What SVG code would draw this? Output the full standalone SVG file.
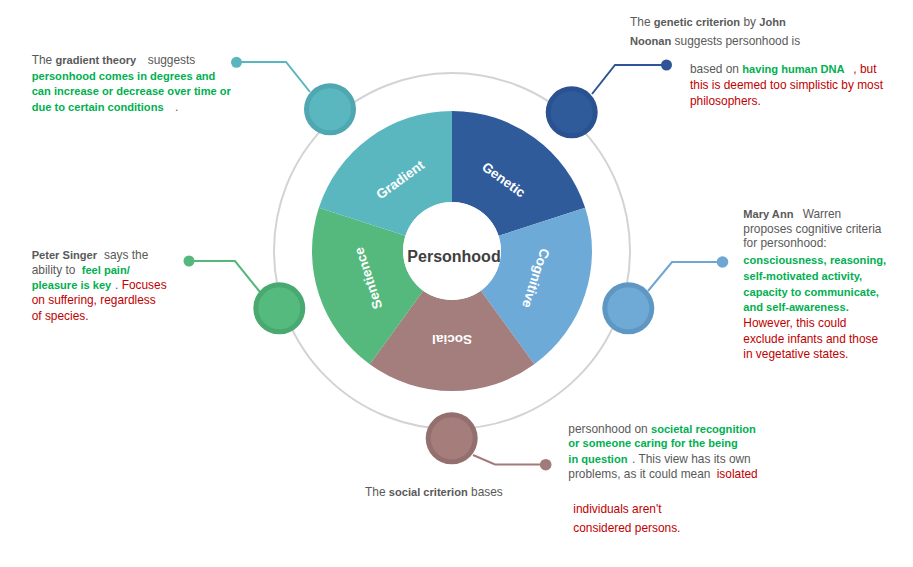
<svg xmlns="http://www.w3.org/2000/svg" width="913" height="567" viewBox="0 0 913 567">
<style>
.t{font-family:"Liberation Sans",Arial,sans-serif;font-size:11.9px;fill:#595959}
.b{font-weight:700;font-size:11.1px}
.g{fill:#00b050}
.rd{fill:#c00000}
.gy{fill:#595959}
.lbl{font-family:"Liberation Sans",Arial,sans-serif;font-size:13.5px;font-weight:700;fill:#fff;text-anchor:middle}
.lead{fill:none;stroke-width:2}
</style>
<rect width="913" height="567" fill="#fff"/>
<circle cx="452" cy="251" r="178" fill="none" stroke="#d3d3d3" stroke-width="2"/>

<g id="connectors">
<polyline class="lead" stroke="#5bb5be" points="310,92 286,62 238,62"/>
<circle cx="236.5" cy="62.3" r="5.5" fill="#5bb5be"/>
<polyline class="lead" stroke="#2f5597" points="592,94 615,65 666,65"/>
<circle cx="666.5" cy="65" r="5.5" fill="#2f5597"/>
<polyline class="lead" stroke="#6ea6d4" points="648,291 672,262 722,262"/>
<circle cx="722.5" cy="262" r="5.8" fill="#6ea6d4"/>
<polyline class="lead" stroke="#55b77c" points="260,292 235,261 190,261"/>
<circle cx="189" cy="261" r="5.5" fill="#55b77c"/>
<polyline class="lead" stroke="#a07b79" points="473,455 495,464.5 545,464.5"/>
<circle cx="545.7" cy="464.7" r="5.8" fill="#a07b79"/>
</g>

<g id="genetic">
<path d="M452,111 A140,140 0 0 1 585.15,207.74 L498.60,235.86 A49,49 0 0 0 452,202 Z" fill="#2f5b9b"/>
<text class="lbl" transform="translate(452,251) rotate(36) translate(0,-88)" y="4.5">Genetic</text>
<circle cx="571.7" cy="112.3" r="23.5" fill="#2f5b9b" stroke="#2b5290" stroke-width="5"/>
<text class="t" x="630" y="25.5">The <tspan class="b">genetic criterion</tspan> by <tspan class="b">John</tspan></text>
<text class="t" x="630" y="45"><tspan class="b">Noonan</tspan> suggests personhood is</text>
<text class="t" x="690" y="72.7">based on <tspan class="b g" x="742.3">having human DNA</tspan><tspan class="rd" x="853.3">, but</tspan></text>
<text class="t rd" x="690" y="89">this is deemed too simplistic by most</text>
<text class="t rd" x="690" y="105">philosophers.</text>
</g>

<g id="cognitive">
<path d="M585.15,207.74 A140,140 0 0 1 534.29,364.26 L480.80,290.64 A49,49 0 0 0 498.60,235.86 Z" fill="#6eaad7"/>
<text class="lbl" transform="translate(452,251) rotate(108) translate(0,-88)" y="4.5">Cognitive</text>
<circle cx="628.3" cy="308.3" r="23.5" fill="#6fa9d6" stroke="#5f97c4" stroke-width="5"/>
<text class="t" x="743.3" y="217.5"><tspan class="b">Mary Ann</tspan><tspan x="802.7">Warren</tspan></text>
<text class="t" x="743.3" y="232.5">proposes cognitive criteria</text>
<text class="t" x="743.3" y="247.3">for personhood:</text>
<text class="t b g" x="743.3" y="264.3">consciousness,<tspan x="830">reasoning,</tspan></text>
<text class="t b g" x="743.3" y="280">self-motivated activity,</text>
<text class="t b g" x="743.3" y="295.7">capacity to communicate,</text>
<text class="t b g" x="743.3" y="311">and self-awareness.</text>
<text class="t rd" x="743.3" y="327.3">However, this could</text>
<text class="t rd" x="743.3" y="342.7">exclude infants and those</text>
<text class="t rd" x="743.3" y="357.7">in vegetative states.</text>
</g>

<g id="social">
<path d="M534.29,364.26 A140,140 0 0 1 369.71,364.26 L423.20,290.64 A49,49 0 0 0 480.80,290.64 Z" fill="#a37e7c"/>
<text class="lbl" transform="translate(452,251) rotate(180) translate(0,-88)" y="4.5">Social</text>
<circle cx="451.7" cy="438.3" r="23.5" fill="#a57e7c" stroke="#93706e" stroke-width="5"/>
<text class="t" x="568.3" y="432.7">personhood on<tspan class="b g" x="651">societal recognition</tspan></text>
<text class="t b g" x="568.3" y="447.3">or someone caring for the being</text>
<text class="t" x="568.3" y="463.3"><tspan class="b g">in question</tspan><tspan x="632">. This view has its own</tspan></text>
<text class="t" x="568.3" y="478.3">problems, as it could mean<tspan class="rd" x="716.7">isolated</tspan></text>
<text class="t" x="365" y="496">The <tspan class="b">social criterion</tspan> bases</text>
<text class="t rd" x="573.3" y="513.3">individuals aren't</text>
<text class="t rd" x="573.3" y="531.7">considered persons.</text>
</g>

<g id="sentience">
<path d="M369.71,364.26 A140,140 0 0 1 318.85,207.74 L405.40,235.86 A49,49 0 0 0 423.20,290.64 Z" fill="#55b97d"/>
<text class="lbl" transform="translate(452,251) rotate(-108) translate(0,-88)" y="4.5">Sentience</text>
<circle cx="279.3" cy="308.3" r="23.5" fill="#55ba7e" stroke="#4aa871" stroke-width="5"/>
<text class="t" x="31.7" y="259"><tspan class="b">Peter Singer</tspan><tspan x="104">says the</tspan></text>
<text class="t" x="31.7" y="274">ability to<tspan class="b g" x="81.7">feel pain/</tspan></text>
<text class="t" x="31.7" y="289.3"><tspan class="b g">pleasure is key</tspan><tspan x="115">.</tspan><tspan class="rd" x="121.7">Focuses</tspan></text>
<text class="t rd" x="31.7" y="304.3">on suffering, regardless</text>
<text class="t rd" x="31.7" y="320">of species.</text>
</g>

<g id="gradient">
<path d="M318.85,207.74 A140,140 0 0 1 452,111 L452,202 A49,49 0 0 0 405.40,235.86 Z" fill="#5bb7bf"/>
<text class="lbl" transform="translate(452,251) rotate(-36) translate(0,-88)" y="4.5">Gradient</text>
<circle cx="330" cy="109.3" r="23.5" fill="#5bb7bf" stroke="#4fa8b1" stroke-width="5"/>
<text class="t" x="31.7" y="64">The <tspan class="b">gradient theory</tspan><tspan x="147.7">suggests</tspan></text>
<text class="t b g" x="31.7" y="79.5">personhood comes in degrees and</text>
<text class="t b g" x="31.7" y="95">can increase or decrease over time or</text>
<text class="t" x="31.7" y="110.5"><tspan class="b g">due to certain conditions</tspan><tspan x="175">.</tspan></text>
</g>

<g id="personhood">
<circle cx="452" cy="251" r="49" fill="#fff"/>
<text x="454" y="262" text-anchor="middle" font-family="Liberation Sans, Arial, sans-serif" font-size="16px" font-weight="700" fill="#404040">Personhood</text>
</g>
</svg>
